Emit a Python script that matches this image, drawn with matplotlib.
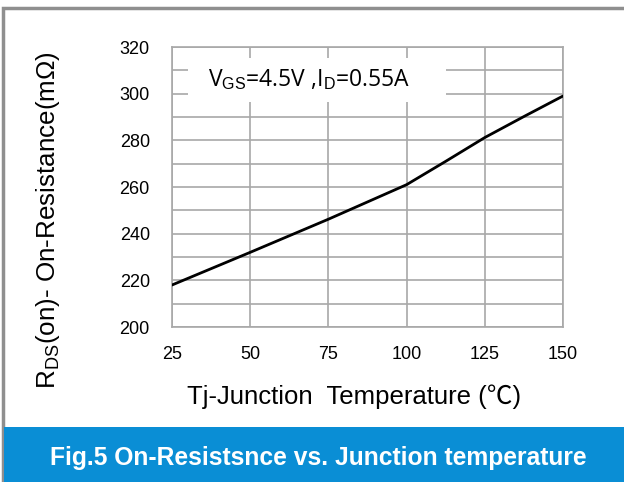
import matplotlib
matplotlib.use("Agg")
import matplotlib.pyplot as plt
from matplotlib.patches import Rectangle

temps = [25, 50, 75, 100, 112.5, 125, 137.5, 150]
rds_on = [218, 232, 246.2, 261, 271, 281.2, 290.2, 299]
x_ticks = [25, 50, 75, 100, 125, 150]
y_ticks = [200, 220, 240, 260, 280, 300, 320]

plt.rcParams['font.family'] = ['Liberation Sans', 'DejaVu Sans']
plt.rcParams['mathtext.fontset'] = 'custom'
plt.rcParams['mathtext.rm'] = 'Liberation Sans'

W, H = 624, 482
fig = plt.figure(figsize=(W / 100, H / 100), dpi=100)

def fx(px):
    return px / W

def fy(py):
    return 1 - py / H

# outer frame
fig.patches.append(Rectangle((fx(3), fy(486)), fx(640) - fx(3), fy(8) - fy(486),
                             transform=fig.transFigure, fill=False,
                             edgecolor='#8f8f8f', lw=2.5, zorder=0))
# blue band
fig.patches.append(Rectangle((fx(4), fy(482)), fx(624) - fx(4), fy(427) - fy(482),
                             transform=fig.transFigure, facecolor='#0a8ed5',
                             edgecolor='none', zorder=1))
fig.text(fx(318), fy(458), "Fig.5 On-Resistsnce vs. Junction temperature",
         color='white', fontsize=17.7, fontweight='bold', ha='center', va='center')

ax = fig.add_axes([fx(172), fy(327), fx(563) - fx(172), fy(47) - fy(327)])
ax.plot(temps, rds_on, color='black', lw=2, zorder=5, solid_capstyle='round')
ax.set_xlim(25, 150)
ax.set_ylim(200, 320)
ax.set_xticks(x_ticks)
ax.set_yticks(y_ticks)
ax.set_yticks(range(210, 320, 20), minor=True)
ax.grid(True, which='both', color='#a8a8a8', lw=1.2)
ax.set_axisbelow(True)
for s in ax.spines.values():
    s.set_color('#a8a8a8')
    s.set_linewidth(1.2)
ax.tick_params(which='both', length=0, labelsize=13, colors='black')
ax.tick_params(axis='x', pad=14)
ax.tick_params(axis='y', pad=16)

# annotation box
ax.add_patch(Rectangle((0.041, 0.805), 0.70 - 0.041, 0.961 - 0.805,
                       transform=ax.transAxes, facecolor='white',
                       edgecolor='none', zorder=3))
ax.text(0.092, 0.883, r"V$_{\mathrm{GS}}$=4.5V ,I$_{\mathrm{D}}$=0.55A",
        transform=ax.transAxes, fontsize=16.5, family=['Open Sans', 'DejaVu Sans'],
        ha='left', va='center', zorder=4)

fig.text(fx(354), fy(397), "Tj-Junction  Temperature (\u2103)", fontsize=18.5,
         ha='center', va='center', family=['Liberation Sans', 'Noto Sans CJK SC', 'DejaVu Sans'])
fig.text(fx(48), fy(220), "R$_{\\mathrm{DS}}$(on)- On-Resistance(m\u03a9)", fontsize=18.7,
         ha='center', va='center', rotation=90)

fig.savefig("out.png", dpi=100)
